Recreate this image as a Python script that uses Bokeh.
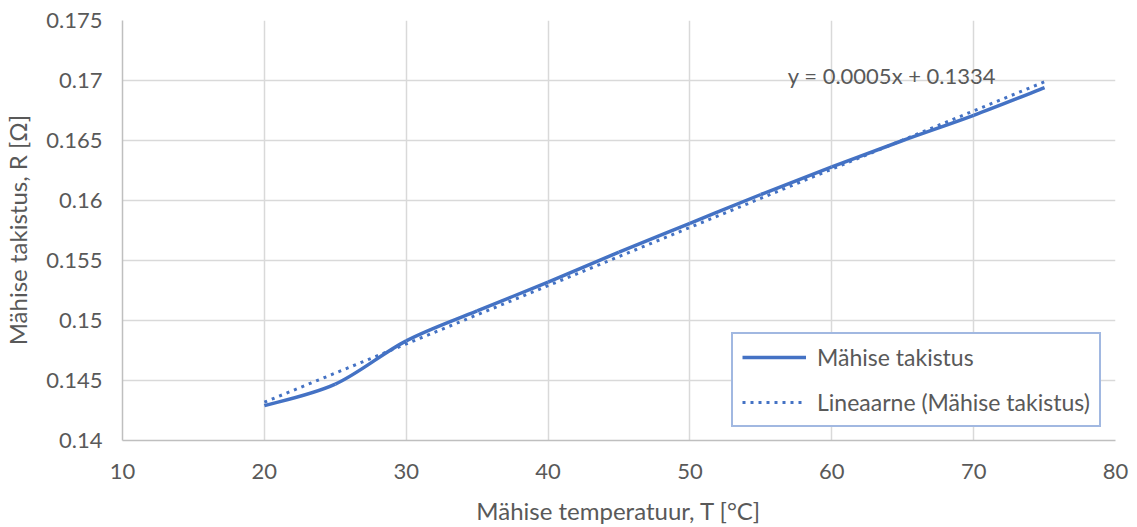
import numpy as np
from bokeh.plotting import figure
from bokeh.models import Legend, LegendItem, Label, Range1d, FixedTicker, ColumnDataSource, NumeralTickFormatter
from bokeh.embed import file_html
from bokeh.resources import INLINE

# ---- data ----
temperature = [20, 25, 30, 35, 40, 45, 50, 55, 60, 65, 70, 75]
resistance = [0.1429, 0.1447, 0.1483, 0.1508, 0.1532, 0.1557, 0.1581, 0.1605,
              0.1628, 0.1650, 0.1671, 0.1694]
series_name = "Mähise takistus"
trend_name = "Lineaarne (Mähise takistus)"
equation_text = "y = 0.0005x + 0.1334"
x_ticks = [10, 20, 30, 40, 50, 60, 70, 80]
y_ticks = [0.14, 0.145, 0.15, 0.155, 0.16, 0.165, 0.17, 0.175]
x_title = "Mähise temperatuur, T [°C]"
y_title = "Mähise takistus, R [Ω]"

BLUE = "#4472C4"
TEXT = "#595959"
GRID = "#D9D9D9"
FONT = "Lato"

p = figure(width=1129, height=527, output_backend="svg", toolbar_location=None,
           x_range=Range1d(x_ticks[0], x_ticks[-1]),
           y_range=Range1d(y_ticks[0], y_ticks[-1]),
           min_border_left=122, min_border_right=14, min_border_top=20, min_border_bottom=86)
p.outline_line_color = None
p.background_fill_color = "white"
p.border_fill_color = "white"

# grids
p.xgrid.ticker = FixedTicker(ticks=x_ticks)
p.ygrid.ticker = FixedTicker(ticks=y_ticks)
for g in (p.xgrid, p.ygrid):
    g.grid_line_color = GRID
    g.grid_line_width = 1.5

# axes
p.xaxis.ticker = FixedTicker(ticks=x_ticks)
p.yaxis.ticker = FixedTicker(ticks=y_ticks)
p.yaxis.formatter = NumeralTickFormatter(format="0.[000]")
for ax in (p.xaxis, p.yaxis):
    ax.axis_line_color = "#BFBFBF"
    ax.axis_line_width = 1.5
    ax.major_tick_line_color = None
    ax.minor_tick_line_color = None
    ax.major_tick_in = 0
    ax.major_tick_out = 0
    ax.minor_tick_out = 0
    ax.major_label_text_font = FONT
    ax.major_label_text_font_size = "22px"
    ax.major_label_text_color = TEXT
    ax.axis_label_text_font = FONT
    ax.axis_label_text_font_size = "24px"
    ax.axis_label_text_color = TEXT
    ax.axis_label_text_font_style = "normal"
p.xaxis.axis_label = x_title
p.yaxis.axis_label = y_title
p.xaxis.major_label_standoff = 23
p.xaxis.axis_label_standoff = 14
p.yaxis.major_label_standoff = 20
p.yaxis.axis_label_standoff = 11

# smooth curve (Excel-style Catmull-Rom Bezier through the data points)
xs = np.array(temperature, dtype=float)
ys = np.array(resistance, dtype=float)
n = len(xs)
xp = np.concatenate([[xs[0]], xs, [xs[-1]]])
yp = np.concatenate([[ys[0]], ys, [ys[-1]]])
x0 = xs[:-1]; y0 = ys[:-1]; x1 = xs[1:]; y1 = ys[1:]
cx0 = x0 + (xp[2:n + 1] - xp[0:n - 1]) / 6.0
cy0 = y0 + (yp[2:n + 1] - yp[0:n - 1]) / 6.0
cx1 = x1 - (xp[3:n + 2] - xp[1:n]) / 6.0
cy1 = y1 - (yp[3:n + 2] - yp[1:n]) / 6.0
curve_src = ColumnDataSource(dict(x0=x0, y0=y0, x1=x1, y1=y1, cx0=cx0, cy0=cy0, cx1=cx1, cy1=cy1))

# linear trend from least squares fit
slope, intercept = np.polyfit(xs, ys, 1)
tx = [xs.min(), xs.max()]
ty = [slope * v + intercept for v in tx]

r_curve = p.bezier(x0="x0", y0="y0", x1="x1", y1="y1", cx0="cx0", cy0="cy0", cx1="cx1", cy1="cy1",
                   source=curve_src, line_color=BLUE, line_width=3.5)
r_trend = p.line(tx, ty, line_color=BLUE, line_width=3, line_dash="3 5")

legend = Legend(items=[LegendItem(label=series_name, renderers=[r_curve]),
                       LegendItem(label=trend_name, renderers=[r_trend])],
                location=(609, 13), orientation="vertical")
legend.margin = 0
legend.padding = 9
legend.spacing = 17
legend.label_height = 24
legend.glyph_height = 24
legend.glyph_width = 64
legend.label_standoff = 11
legend.label_text_font = FONT
legend.label_text_font_size = "23px"
legend.label_text_color = TEXT
legend.border_line_color = BLUE
legend.border_line_width = 2
legend.background_fill_color = "white"
legend.background_fill_alpha = 1.0
p.add_layout(legend, "center")

eq = Label(x=56.9, y=0.1704, text=equation_text, text_font=FONT, text_font_size="22px",
           text_color=TEXT, text_baseline="middle", text_align="left")
p.add_layout(eq)

open("out.html", "w").write(file_html(p, INLINE))
